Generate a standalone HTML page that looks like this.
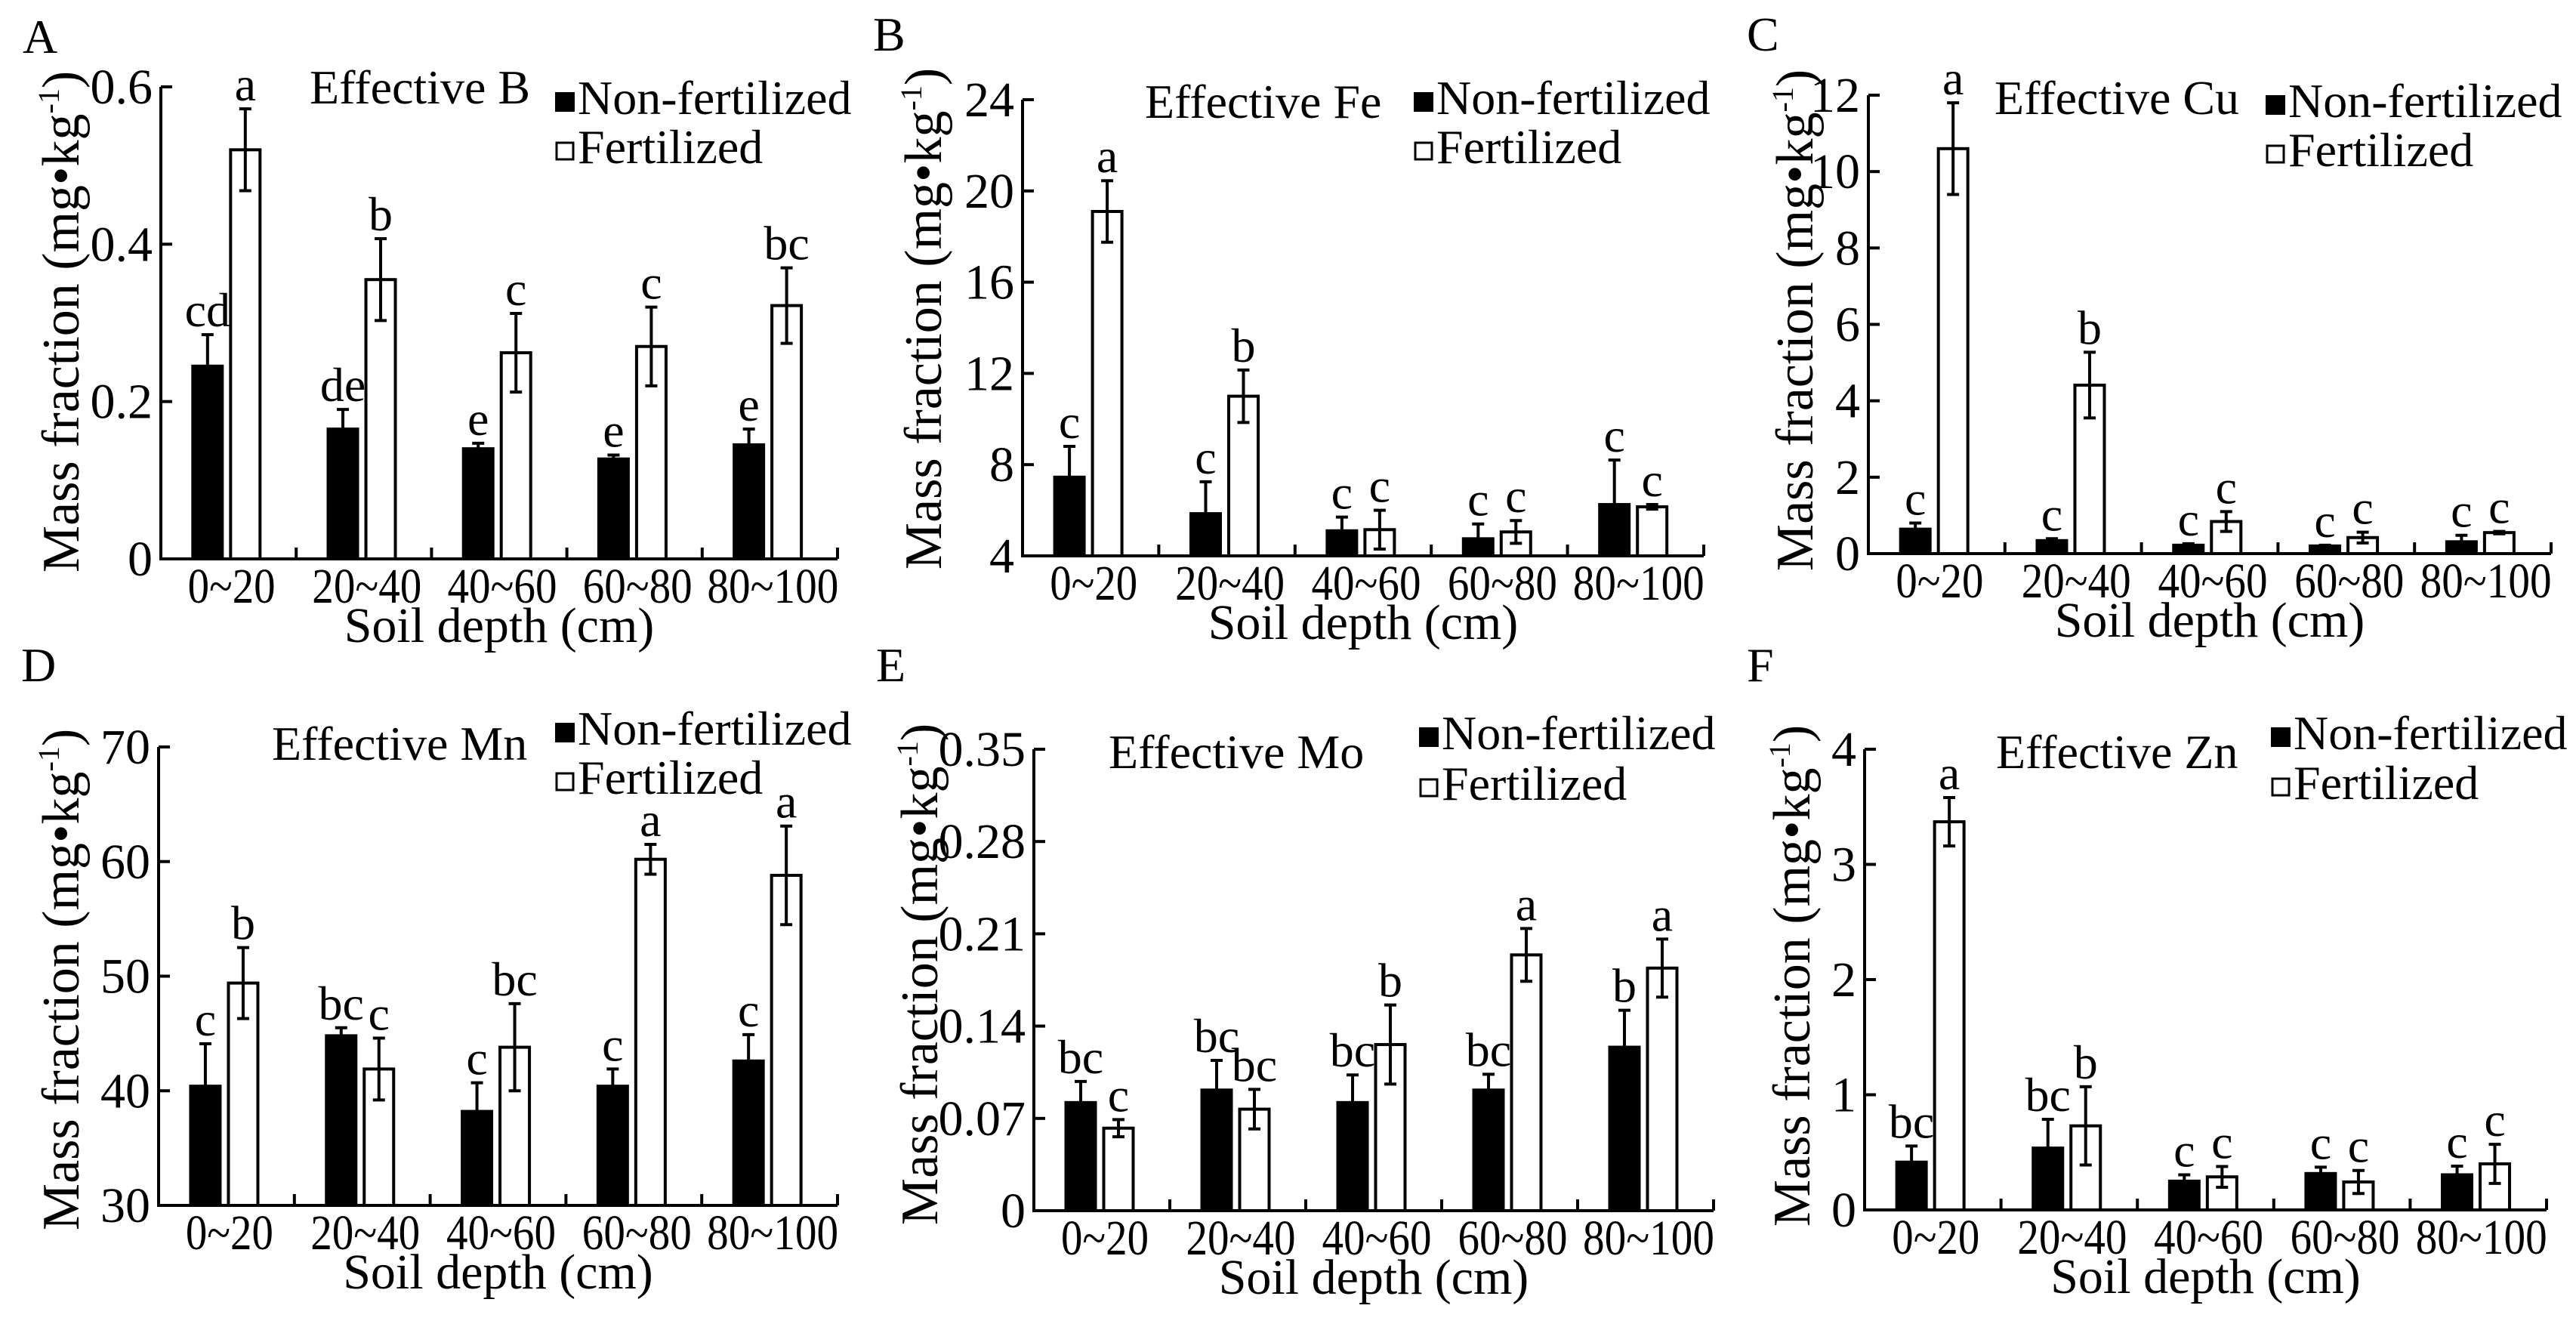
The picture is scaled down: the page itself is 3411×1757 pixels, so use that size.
<!DOCTYPE html>
<html><head><meta charset="utf-8"><title>Effective micronutrients by soil depth</title>
<style>
html,body{margin:0;padding:0;background:#fff;}
svg{display:block;}
text{font-family:"Liberation Serif","Times New Roman",serif;fill:#000;}
</style></head>
<body>
<svg id="fig" width="3411" height="1757" viewBox="0 0 3411 1757" xmlns="http://www.w3.org/2000/svg" font-family="Liberation Serif, serif"></svg>
<script>
// ---- data ----
const categories = ["0~20","20~40","40~60","60~80","80~100"];
// Panel A: Effective B
const bNonFert = [0.245,0.165,0.140,0.127,0.145];
const bNonErr  = [0.040,0.025,0.007,0.005,0.020];
const bFert    = [0.520,0.355,0.262,0.270,0.322];
const bFertErr = [0.052,0.052,0.050,0.050,0.048];
const bNonSig  = ["cd","de","e","e","e"];
const bFertSig = ["a","b","c","c","bc"];
const bTicks   = [0,0.2,0.4,0.6];
const bTickLabels = ["0","0.2","0.4","0.6"];
// Panel B: Effective Fe
const feNonFert = [7.45,5.85,5.10,4.75,6.25];
const feNonErr  = [1.35,1.40,0.60,0.65,1.95];
const feFert    = [19.1,11.0,5.15,5.05,6.15];
const feFertErr = [1.35,1.15,0.85,0.50,0.10];
const feNonSig  = ["c","c","c","c","c"];
const feFertSig = ["a","b","c","c","c"];
const feTicks   = [4,8,12,16,20,24];
const feTickLabels = ["4","8","12","16","20","24"];
// Panel C: Effective Cu
const cuNonFert = [0.64,0.34,0.22,0.20,0.31];
const cuNonErr  = [0.16,0.05,0.04,0.02,0.17];
const cuFert    = [10.6,4.41,0.84,0.42,0.55];
const cuFertErr = [1.2,0.86,0.26,0.14,0.03];
const cuNonSig  = ["c","c","c","c","c"];
const cuFertSig = ["a","b","c","c","c"];
const cuTicks   = [0,2,4,6,8,10,12];
const cuTickLabels = ["0","2","4","6","8","10","12"];
// Panel D: Effective Mn
const mnNonFert = [40.4,44.8,38.2,40.4,42.6];
const mnNonErr  = [3.7,0.7,2.5,1.5,2.3];
const mnFert    = [49.4,41.9,43.8,60.2,58.8];
const mnFertErr = [3.1,2.7,3.8,1.3,4.3];
const mnNonSig  = ["c","bc","c","c","c"];
const mnFertSig = ["b","c","bc","a","a"];
const mnTicks   = [30,40,50,60,70];
const mnTickLabels = ["30","40","50","60","70"];
// Panel E: Effective Mo
const moNonFert = [0.082,0.0915,0.082,0.0915,0.124];
const moNonErr  = [0.016,0.0225,0.021,0.012,0.028];
const moFert    = [0.0626,0.077,0.126,0.194,0.184];
const moFertErr = [0.0065,0.015,0.030,0.020,0.022];
const moNonSig  = ["bc","bc","bc","bc","b"];
const moFertSig = ["c","bc","b","a","a"];
const moTicks   = [0,0.07,0.14,0.21,0.28,0.35];
const moTickLabels = ["0","0.07","0.14","0.21","0.28","0.35"];
// Panel F: Effective Zn
const znNonFert = [0.415,0.537,0.25,0.316,0.305];
const znNonErr  = [0.14,0.25,0.055,0.055,0.075];
const znFert    = [3.37,0.73,0.287,0.243,0.40];
const znFertErr = [0.21,0.34,0.09,0.10,0.17];
const znNonSig  = ["bc","bc","c","c","c"];
const znFertSig = ["a","b","c","c","c"];
const znTicks   = [0,1,2,3,4];
const znTickLabels = ["0","1","2","3","4"];

// ---- layout (pixels) ----
const panels = [
 {id:"a",letter:"A",lx:30,ly:70,title:"Effective B",tx:410,ty:137,sq:735,l1:151,l2:216,ax:213,xe:1109,y0:740,y1:115,ylx:80,yly:426,
  nf:bNonFert,nfe:bNonErr,f:bFert,fe:bFertErr,nfs:bNonSig,fs:bFertSig,ticks:bTicks,tl:bTickLabels},
 {id:"b",letter:"B",lx:1156,ly:67,title:"Effective Fe",tx:1516,ty:156,sq:1872,l1:151,l2:216,ax:1354,xe:2256,y0:736,y1:132,ylx:1222,yly:422,
  nf:feNonFert,nfe:feNonErr,f:feFert,fe:feFertErr,nfs:feNonSig,fs:feFertSig,ticks:feTicks,tl:feTickLabels},
 {id:"c",letter:"C",lx:2313,ly:67,title:"Effective Cu",tx:2641,ty:151,sq:3000,l1:155,l2:220,ax:2474,xe:3378,y0:733,y1:126,ylx:2376,yly:424,
  nf:cuNonFert,nfe:cuNonErr,f:cuFert,fe:cuFertErr,nfs:cuNonSig,fs:cuFertSig,ticks:cuTicks,tl:cuTickLabels},
 {id:"d",letter:"D",lx:28,ly:902,title:"Effective Mn",tx:360,ty:1006,sq:735,l1:986,l2:1051,ax:210,xe:1109,y0:1596,y1:989,ylx:80,yly:1297,
  nf:mnNonFert,nfe:mnNonErr,f:mnFert,fe:mnFertErr,nfs:mnNonSig,fs:mnFertSig,ticks:mnTicks,tl:mnTickLabels},
 {id:"e",letter:"E",lx:1160,ly:902,title:"Effective Mo",tx:1468,ty:1017,sq:1879,l1:992,l2:1059,ax:1369,xe:2269,y0:1603,y1:992,ylx:1217,yly:1290,
  nf:moNonFert,nfe:moNonErr,f:moFert,fe:moFertErr,nfs:moNonSig,fs:moFertSig,ticks:moTicks,tl:moTickLabels},
 {id:"f",letter:"F",lx:2313,ly:902,title:"Effective Zn",tx:2643,ty:1017,sq:3007,l1:992,l2:1058,ax:2469,xe:3372,y0:1602,y1:992,ylx:2372,yly:1292,
  nf:znNonFert,nfe:znNonErr,f:znFert,fe:znFertErr,nfs:znNonSig,fs:znFertSig,ticks:znTicks,tl:znTickLabels}
];

const NS="http://www.w3.org/2000/svg";
const svg=document.getElementById("fig");
const FS=64;
function mk(tag,attrs,parent){const e=document.createElementNS(NS,tag);for(const k in attrs)e.setAttribute(k,attrs[k]);(parent||svg).appendChild(e);return e;}
function txt(s,attrs,parent){const e=mk("text",attrs,parent);e.textContent=s;return e;}

panels.forEach(p=>{
  const g=mk("g",{});
  
  
  const vmin=p.ticks[0], vmax=p.ticks[p.ticks.length-1];
  const yScale=v=>p.y0-(v-vmin)/(vmax-vmin)*(p.y0-p.y1);
  const W=(p.xe-p.ax)/5;
  const xScale=i=>p.ax+i*W;

  const L=txt(p.letter,{x:p.lx,y:p.ly,"font-size":FS},g);
  
  

  const ya=mk("line",{x1:p.ax,y1:p.y1,x2:p.ax,y2:p.y0+2,stroke:"#000","stroke-width":4},g);
  
  
  const xa=mk("line",{x1:p.ax-2,y1:p.y0,x2:p.xe,y2:p.y0,stroke:"#000","stroke-width":4},g);
  
  

  p.ticks.forEach((t,i)=>{
    const y=yScale(t);
    const tk=mk("line",{x1:p.ax,y1:y,x2:p.ax+15,y2:y,stroke:"#000","stroke-width":4},g);
    
    
    const lab=txt(p.tl[i],{x:p.ax-11,y:y+22,"font-size":66,"text-anchor":"end"},g);
    
    
  });
  for(let i=1;i<=5;i++){
    const x=xScale(i);
    const tk=mk("line",{x1:x,y1:p.y0,x2:x,y2:p.y0-15,stroke:"#000","stroke-width":4},g);
    
    
  }
  categories.forEach((c,i)=>{
    const lab=txt(c,{x:xScale(i)+W/2+4,y:p.y0+58,"font-size":66,"text-anchor":"middle",textLength:29*c.length,lengthAdjust:"spacingAndGlyphs"},g);
    
    
  });

  const bw=43;
  categories.forEach((c,i)=>{
    const bx=xScale(i)+0.225*W;
    const wx=bx+bw+7;
    [[p.nf[i],p.nfe[i],p.nfs[i],bx,"#000","non-fertilized"],[p.f[i],p.fe[i],p.fs[i],wx,"#fff","fertilized"]].forEach(s=>{
      const [v,e,sig,x,fill,nm]=s;
      const top=yScale(v);
      const r=mk("rect",{x:x+2,y:top,width:bw-4,height:p.y0-top,fill:fill,stroke:"#000","stroke-width":4},g);
      
      
      const cx=x+bw/2;
      const eTop=yScale(v+e), eBot=yScale(Math.max(vmin,v-e));
      const eb=mk("path",{d:`M${cx},${eTop}V${eBot}M${cx-8},${eTop}H${cx+8}M${cx-8},${eBot}H${cx+8}`,stroke:"#000","stroke-width":4,fill:"none"},g);
      
      
      const sl=txt(sig,{x:cx,y:eTop-11,"font-size":FS,"text-anchor":"middle"},g);
      
      
    });
  });

  const tt=txt(p.title,{x:p.tx,y:p.ty,"font-size":FS},g);
  
  

  const s1=mk("rect",{x:p.sq,y:p.l1-29,width:26,height:26,fill:"#000"},g);
  
  
  const t1=txt("Non-fertilized",{x:p.sq+30,y:p.l1,"font-size":FS},g);
  
  
  const s2=mk("rect",{x:p.sq+2,y:p.l2-27,width:22,height:22,fill:"#fff",stroke:"#000","stroke-width":3},g);
  
  
  const t2=txt("Fertilized",{x:p.sq+30,y:p.l2,"font-size":FS},g);
  
  

  const yt=mk("text",{x:0,y:0,"font-size":70,"text-anchor":"middle",transform:`translate(${p.ylx+24},${p.yly}) rotate(-90)`},g);
  
  
  yt.appendChild(document.createTextNode("Mass fraction (mg•kg"));
  const sup=document.createElementNS(NS,"tspan");
  sup.setAttribute("font-size","40");sup.setAttribute("dy","-26");sup.textContent="-1";
  yt.appendChild(sup);
  const cl=document.createElementNS(NS,"tspan");
  cl.setAttribute("dy","26");cl.textContent=")";
  yt.appendChild(cl);

  const xt=txt("Soil depth (cm)",{x:(p.ax+p.xe)/2,y:p.y0+110,"font-size":66,"text-anchor":"middle"},g);
  
  
});
</script>
</body></html>
